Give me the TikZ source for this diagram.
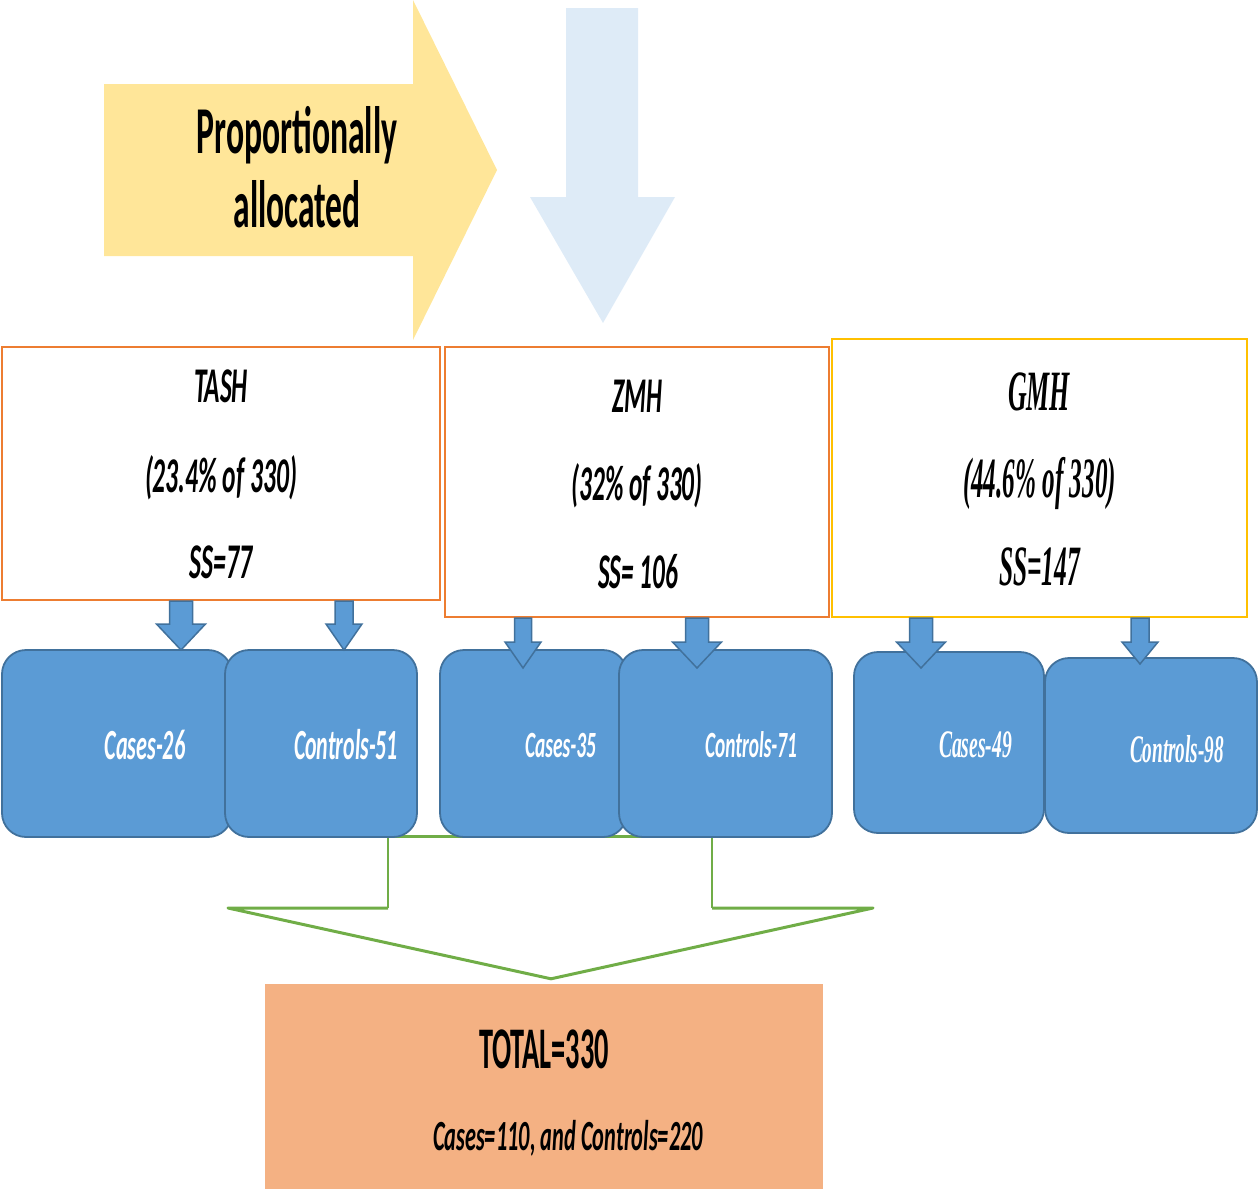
\documentclass[tikz,border=0pt]{standalone}
\usepackage{fontspec}
\usepackage{graphicx}
\setmainfont{Carlito}
\newfontfamily\timesfam{Liberation Serif}
\usetikzlibrary{calc}

\definecolor{arrowyellow}{HTML}{FFE699}
\definecolor{arrowblue}{HTML}{DEEBF7}
\definecolor{hosporange}{HTML}{ED7D31}
\definecolor{hospgold}{HTML}{FFC000}
\definecolor{groupfill}{HTML}{5B9BD5}
\definecolor{groupline}{HTML}{41719C}
\definecolor{mergegreen}{HTML}{70AD47}
\definecolor{totalfill}{HTML}{F4B183}

% text squeezed to a given width, keeping its height
\newcommand\fitw[2]{\resizebox{#1pt}{\height}{#2}}

% block arrow from the bottom of a node down to a tip
% #1 source node, #2 x centre, #3 half shaft, #4 half head, #5 tip y, #6 head length
\newcommand\blockarrow[6]{%
  \path[blockar] let \p1=(#1.south) in
    (#2-#3,\y1) -- (#2-#3,#5-#6) -- (#2-#4,#5-#6) -- (#2,#5)
    -- (#2+#4,#5-#6) -- (#2+#3,#5-#6) -- (#2+#3,\y1) -- cycle;}

\tikzset{
  txt/.style={inner sep=0pt, anchor=base},
  hospbox/.style={draw, line width=2pt, fill=white, inner sep=0pt},
  groupbox/.style={draw=groupline, fill=groupfill, line width=1.8pt,
    rounded corners=24pt, inner sep=0pt},
  blockar/.style={fill=groupfill, draw=groupline, line width=1.5pt, line join=miter},
  merge/.style={draw=mergegreen, line width=3pt, line join=round},
}

\begin{document}
\begin{tikzpicture}[x=1pt,y=-1pt]
\useasboundingbox (0,0) rectangle (1258,1191);

% large arrows at the top
\path[fill=arrowyellow] (104,84) -- (413,84) -- (413,0) -- (497,170)
  -- (413,340) -- (413,256) -- (104,256) -- cycle;
\node[txt] (prop) at (297,153)
  {\fitw{201}{\fontsize{67}{67}\selectfont\bfseries Proportionally}};
\node[txt] (alloc) at (297,227)
  {\fitw{127}{\fontsize{67}{67}\selectfont\bfseries allocated}};

\path[fill=arrowblue] (566,8) -- (638,8) -- (638,197) -- (675,197)
  -- (603,323) -- (530,197) -- (566,197) -- cycle;

% total box and the merging outline above it
\node[fill=totalfill, minimum width=558pt, minimum height=205pt, inner sep=0pt]
  (total) at (544,1086.5) {};
\node[txt] (totaltxt) at (544,1068)
  {\fitw{130}{\fontsize{59}{59}\selectfont\bfseries TOTAL=330}};
\node[txt] (totalsub) at (568,1150)
  {\fitw{270}{\fontsize{43}{43}\selectfont\bfseries\itshape Cases=110, and Controls=220}};

\coordinate (mtl) at (388,836);
\coordinate (mtr) at (712,836);
\coordinate (mbl) at (388,908);
\coordinate (mbr) at (712,908);
\coordinate (mwl) at (228,908);
\coordinate (mwr) at (873,908);
\coordinate (mtip) at ($(total.north)+(7,-5)$);
\draw[merge] (mtl) -- (mtr);
\draw[merge, line width=2pt] (mtl) -- (mbl) (mtr) -- (mbr);
\draw[merge] (mbl) -- (mwl) -- (mtip) -- (mwr) -- (mbr);

% case and control groups
\node[groupbox, minimum width=230pt, minimum height=187pt] (c26) at (117,743.5) {};
\node[groupbox, minimum width=192pt, minimum height=187pt] (c51) at (321,743.5) {};
\node[groupbox, minimum width=187pt, minimum height=187pt] (c35) at (533.5,743.5) {};
\node[groupbox, minimum width=213pt, minimum height=187pt] (c71) at (725.5,743.5) {};
\node[groupbox, minimum width=190pt, minimum height=181pt] (c49) at (949,742.5) {};
\node[groupbox, minimum width=212pt, minimum height=175pt] (c98) at (1151,745.5) {};

\node[txt, text=white] (t26) at (145,759)
  {\fitw{81}{\fontsize{43}{43}\selectfont\bfseries\itshape Cases-26}};
\node[txt, text=white] (t51) at (346,759)
  {\fitw{104}{\fontsize{43}{43}\selectfont\bfseries\itshape Controls-51}};
\node[txt, text=white] (t35) at (560.5,757)
  {\fitw{71}{\fontsize{37}{37}\selectfont\bfseries\itshape Cases-35}};
\node[txt, text=white] (t71) at (751,757)
  {\fitw{92}{\fontsize{37}{37}\selectfont\bfseries\itshape Controls-71}};
\node[txt, text=white] (t49) at (975.5,757)
  {\fitw{73}{\fontsize{39}{39}\selectfont\timesfam\bfseries\itshape Cases-49}};
\node[txt, text=white] (t98) at (1177,762)
  {\fitw{94}{\fontsize{39}{39}\selectfont\timesfam\bfseries\itshape Controls-98}};

% hospital boxes
\node[hospbox, draw=hosporange, minimum width=438pt, minimum height=253pt]
  (tash) at (221,473.5) {};
\node[hospbox, draw=hosporange, minimum width=384pt, minimum height=270pt]
  (zmh) at (637,482) {};
\node[hospbox, draw=hospgold, minimum width=415pt, minimum height=278pt]
  (gmh) at (1039.5,478) {};

\node[txt] (tash1) at (221,402)
  {\fitw{54}{\fontsize{50}{50}\selectfont\bfseries\itshape TASH}};
\node[txt] (tash2) at (221,492)
  {\fitw{152}{\fontsize{50}{50}\selectfont\bfseries\itshape (23.4\% of 330)}};
\node[txt] (tash3) at (221,578)
  {\fitw{63}{\fontsize{50}{50}\selectfont\bfseries\itshape SS=77}};

\node[txt] (zmh1) at (637,412)
  {\fitw{50}{\fontsize{50}{50}\selectfont\bfseries\itshape ZMH}};
\node[txt] (zmh2) at (637,500)
  {\fitw{131}{\fontsize{50}{50}\selectfont\bfseries\itshape (32\% of 330)}};
\node[txt] (zmh3) at (638,588)
  {\fitw{80}{\fontsize{50}{50}\selectfont\bfseries\itshape SS= 106}};

\node[txt] (gmh1) at (1039,410)
  {\fitw{62}{\fontsize{57}{57}\selectfont\timesfam\bfseries\itshape GMH}};
\node[txt] (gmh2) at (1039.5,497)
  {\fitw{153}{\fontsize{57}{57}\selectfont\timesfam\bfseries\itshape (44.6\% of 330)}};
\node[txt] (gmh3) at (1039.5,585)
  {\fitw{81}{\fontsize{57}{57}\selectfont\timesfam\bfseries\itshape SS=147}};

% arrows from hospitals to their groups
\blockarrow{tash}{181}{11.5}{24.5}{650}{26}
\blockarrow{tash}{344}{9}{18}{650}{26}
\blockarrow{zmh}{523}{8.5}{18}{668}{26}
\blockarrow{zmh}{697}{11.5}{24.5}{668}{26}
\blockarrow{gmh}{921}{11.5}{24.5}{668}{26}
\blockarrow{gmh}{1140}{9}{18}{664}{22}
\end{tikzpicture}
\end{document}
